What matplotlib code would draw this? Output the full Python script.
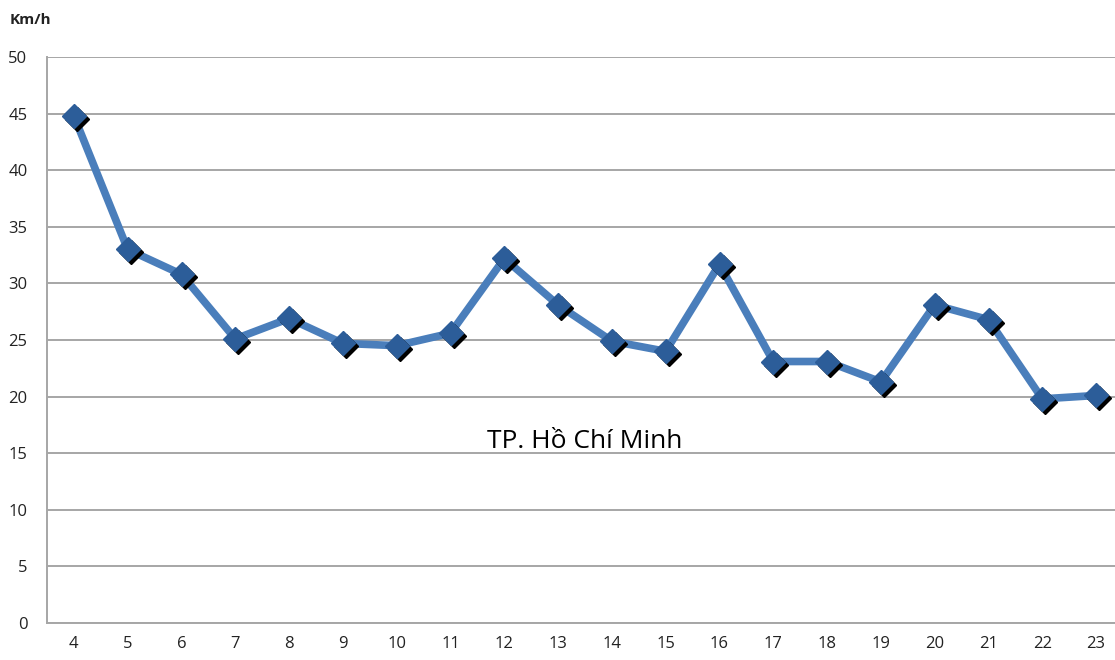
import numpy as np
import matplotlib
matplotlib.use("Agg")
import matplotlib.pyplot as plt
import matplotlib.transforms as mtransforms

# hours of day and average speed (km/h)
hours = ["4", "5", "6", "7", "8", "9", "10", "11", "12", "13",
         "14", "15", "16", "17", "18", "19", "20", "21", "22", "23"]
speed = [44.8, 33.0, 30.8, 25.1, 26.9, 24.7, 24.5, 25.6, 32.2, 28.1,
         24.9, 24.0, 31.7, 23.1, 23.1, 21.3, 28.1, 26.8, 19.8, 20.1]
yticks = [0, 5, 10, 15, 20, 25, 30, 35, 40, 45, 50]

plt.rcParams['font.family'] = ['Open Sans', 'DejaVu Sans']

fig = plt.figure(figsize=(11.15, 6.6), dpi=100)
ax = fig.add_axes([47/1115, 37/660, 1076/1115, 566/660])

x = np.arange(len(hours))
ax.plot(x, speed, color='#4a7ebb', lw=5.5, solid_joinstyle='round', zorder=3)
# black shadow under markers
shadow = ax.transData + mtransforms.ScaledTranslation(3/100, -3/100, fig.dpi_scale_trans)
ax.plot(x, speed, ls='none', marker='D', ms=12, color='black', transform=shadow, zorder=4)
ax.plot(x, speed, ls='none', marker='D', ms=12, color='#2c5d99',
        markeredgecolor='#2c5d99', zorder=5)

ax.set_xlim(-0.5, len(hours) - 0.5)
ax.set_ylim(0, 50)
ax.set_yticks(yticks)
ax.set_xticks(x)
ax.set_xticklabels(hours)
ax.tick_params(length=0, labelsize=12, colors='#222222', pad=9)
ax.tick_params(axis='y', pad=14)
ax.grid(axis='y', color='#a6a6a6', lw=1.4)
ax.set_axisbelow(True)
for s in ['top', 'right']:
    ax.spines[s].set_visible(False)
for s in ['left', 'bottom']:
    ax.spines[s].set_color('#a6a6a6')
    ax.spines[s].set_linewidth(1.4)

ax.text(0.5, 0.32, "TP. Hồ Chí Minh", transform=ax.transAxes, ha='center',
        va='center', fontsize=19, color='black')
fig.text(10/1115, 1 - 20/660, "Km/h", fontsize=11, fontweight='bold',
         color='#222222', va='center')

fig.savefig("out.png", dpi=100)
